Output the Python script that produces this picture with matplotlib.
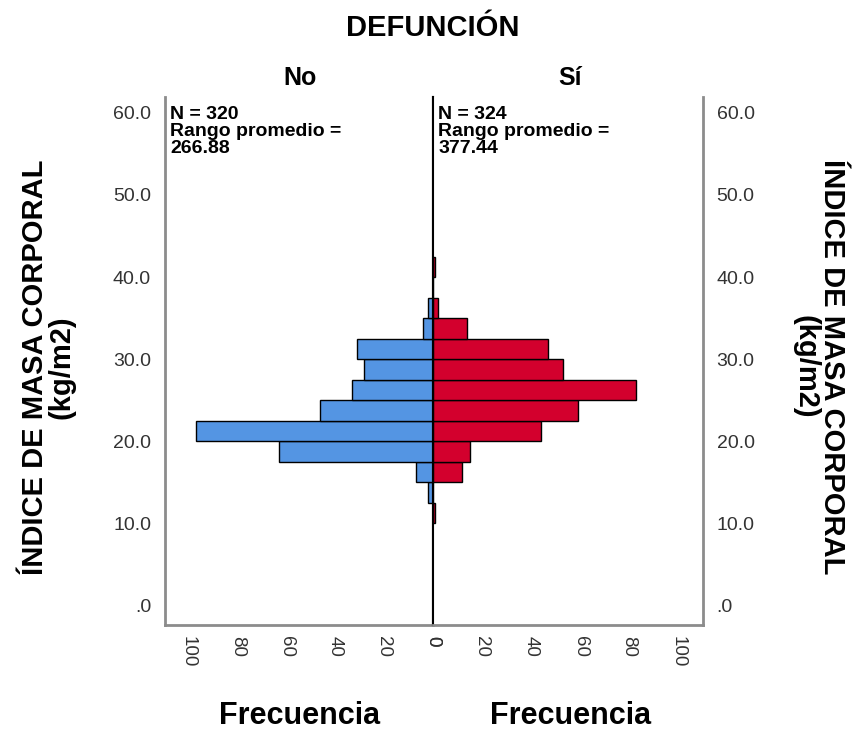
import matplotlib
matplotlib.use("Agg")
import matplotlib.pyplot as plt
import numpy as np

plt.rcParams['font.family'] = ['Liberation Sans', 'DejaVu Sans']

# BMI bins (lower edges, width 2.5) and frequencies per group
bin_starts = [10.0, 12.5, 15.0, 17.5, 20.0, 22.5, 25.0, 27.5, 30.0, 32.5, 35.0, 37.5, 40.0]
bin_width = 2.5
freq_no = [0, 2, 7, 63, 97, 46, 33, 28, 31, 4, 2, 0, 0]
freq_si = [1, 0, 12, 15, 44, 59, 83, 53, 47, 14, 2, 0, 1]

groups = ["No", "Sí"]
stats_text = ["N = 320\nRango promedio =\n266.88", "N = 324\nRango promedio =\n377.44"]

y_ticks = [0, 10, 20, 30, 40, 50, 60]
y_ticklabels = [".0", "10.0", "20.0", "30.0", "40.0", "50.0", "60.0"]
x_ticks = [0, 20, 40, 60, 80, 100]

blue = "#5495E3"
red = "#D3002D"
frame_gray = "#8c8c8c"
tick_color = "#333333"

fig = plt.figure(figsize=(8.59, 7.34), dpi=100)
ax_l = fig.add_axes([0.192, 0.1485, 0.312, 0.72])
ax_r = fig.add_axes([0.504, 0.1485, 0.314, 0.72], sharey=ax_l)

ax_l.barh(bin_starts, freq_no, height=bin_width, align='edge',
          color=blue, edgecolor='black', linewidth=1.0)
ax_r.barh(bin_starts, freq_si, height=bin_width, align='edge',
          color=red, edgecolor='black', linewidth=1.0)

ax_l.set_xlim(109.5, 0)
ax_r.set_xlim(0, 110)
ax_l.set_ylim(-2.4, 62)

for ax, txt in zip([ax_l, ax_r], stats_text):
    ax.set_xticks(x_ticks)
    ax.set_xticklabels([str(t) for t in x_ticks], rotation=270, fontsize=13.5, color=tick_color)
    ax.tick_params(axis='both', length=0, pad=8)
    ax.spines['top'].set_visible(False)
    ax.spines['bottom'].set_color(frame_gray)
    ax.spines['bottom'].set_linewidth(2)
    ax.text(0.019, 0.982, txt, transform=ax.transAxes, ha='left', va='top',
            fontsize=14, fontweight='bold', linespacing=0.98)

ax_l.spines['left'].set_color(frame_gray)
ax_l.spines['left'].set_linewidth(2)
ax_l.spines['right'].set_color('black')
ax_l.spines['right'].set_linewidth(1.5)
ax_r.spines['left'].set_color('black')
ax_r.spines['left'].set_linewidth(1.5)
ax_r.spines['right'].set_color(frame_gray)
ax_r.spines['right'].set_linewidth(2)

ax_l.set_yticks(y_ticks)
ax_l.set_yticklabels(y_ticklabels, fontsize=14, color=tick_color)
ax_l.tick_params(axis='y', pad=10)
ax_r.yaxis.tick_right()
ax_r.tick_params(axis='y', labelright=True, labelleft=False, length=0, pad=10)
ax_r.set_yticks(y_ticks)
ax_r.set_yticklabels(y_ticklabels, fontsize=14, color=tick_color)

ylabel = "ÍNDICE DE MASA CORPORAL\n(kg/m2)"
fig.text(0.056, 0.50, ylabel, rotation=90, ha='center', va='center',
         fontsize=21, fontweight='bold', linespacing=0.95, multialignment='center')
fig.text(0.953, 0.50, ylabel, rotation=270, ha='center', va='center',
         fontsize=21, fontweight='bold', linespacing=0.95, multialignment='center')

fig.text(0.504, 0.962, "DEFUNCIÓN", ha='center', va='center', fontsize=21, fontweight='bold')
fig.text(0.349, 0.894, groups[0], ha='center', va='center', fontsize=18, fontweight='bold')
fig.text(0.664, 0.894, groups[1], ha='center', va='center', fontsize=18, fontweight='bold')
fig.text(0.349, 0.024, "Frecuencia", ha='center', va='center', fontsize=22, fontweight='bold')
fig.text(0.664, 0.024, "Frecuencia", ha='center', va='center', fontsize=22, fontweight='bold')

fig.savefig("out.png", dpi=100)
